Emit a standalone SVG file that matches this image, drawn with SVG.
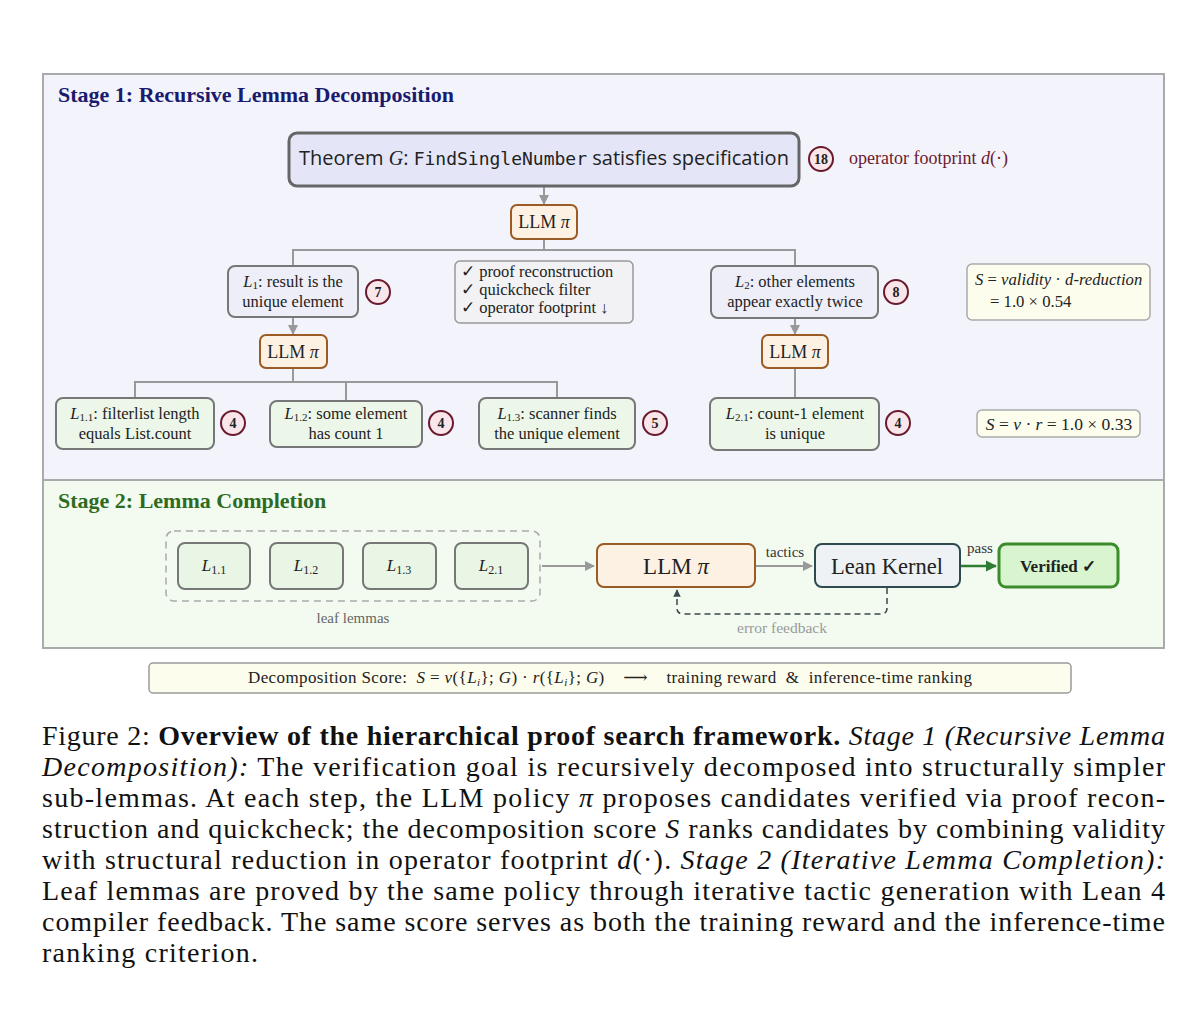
<svg xmlns="http://www.w3.org/2000/svg" width="1200" height="1033" viewBox="0 0 1200 1033">
<defs>
<style>
.s{font-family:"Liberation Serif","DejaVu Serif",serif;}
.t16{font-size:16.5px;fill:#222;}
.sub{font-size:11px;}
.lem{stroke:#777;stroke-width:2;}
.lav{fill:#eeeef8;}
.grn{fill:#edf7e9;}
.llm{fill:#fdf1e4;stroke:#9a5b25;stroke-width:2;}
.badge{fill:#f8e6ea;stroke:#6b1a2e;stroke-width:2;}
.btxt{font-family:"Liberation Serif",serif;font-weight:bold;font-size:14px;fill:#222;text-anchor:middle;}
.con{fill:none;stroke:#999;stroke-width:2;}
.cap{font-family:"Liberation Serif","DejaVu Serif",serif;font-size:28px;fill:#111;}
</style>
<marker id="ag" viewBox="0 0 10 10" refX="9" refY="5" markerWidth="5" markerHeight="5" orient="auto"><path d="M0,0 L10,5 L0,10 z" fill="#999"/></marker>
<marker id="agr" viewBox="0 0 10 10" refX="9" refY="5" markerWidth="4.5" markerHeight="4.5" orient="auto"><path d="M0,0 L10,5 L0,10 z" fill="#2e7d32"/></marker>
<marker id="ad" viewBox="0 0 10 10" refX="9" refY="5" markerWidth="5" markerHeight="5" orient="auto"><path d="M0,0 L10,5 L0,10 z" fill="#3a4a4f"/></marker>
</defs>
<rect width="1200" height="1033" fill="#fff"/>

<!-- panels -->
<g id="stage1">
<rect x="43" y="74" width="1121" height="406" fill="#f3f3fc" stroke="#aaa" stroke-width="2"/>
<text x="58" y="102" class="s" font-size="22" font-weight="bold" fill="#1a1a6e">Stage 1: Recursive Lemma Decomposition</text>
</g>
<g id="stage2">
<rect x="43" y="480" width="1121" height="168" fill="#f3fbf1" stroke="#aaa" stroke-width="2"/>
<text x="58" y="508" class="s" font-size="22" font-weight="bold" fill="#2e6b1e">Stage 2: Lemma Completion</text>
</g>

<!-- connectors -->
<g id="connectors">
<line x1="544" y1="187" x2="544" y2="204" class="con" marker-end="url(#ag)"/>
<polyline points="544,239 544,250" class="con"/>
<polyline points="293,266 293,250 795,250 795,266" class="con"/>
<line x1="293" y1="318" x2="293" y2="334" class="con" marker-end="url(#ag)"/>
<polyline points="293,368 293,382" class="con"/>
<polyline points="135,398 135,382 557,382 557,398" class="con"/>
<line x1="346" y1="382" x2="346" y2="401" class="con"/>
<line x1="795" y1="318" x2="795" y2="334" class="con" marker-end="url(#ag)"/>
<line x1="795" y1="368" x2="795" y2="398" class="con"/>
<line x1="542" y1="566" x2="594" y2="566" class="con" marker-end="url(#ag)"/>
<line x1="756" y1="566" x2="812" y2="566" class="con" marker-end="url(#ag)"/>
<text x="785" y="557" class="s" font-size="15" fill="#333" text-anchor="middle">tactics</text>
<line x1="961" y1="566" x2="996" y2="566" fill="none" stroke="#2e7d32" stroke-width="2.5" marker-end="url(#agr)"/>
<text x="980" y="553" class="s" font-size="15" fill="#333" text-anchor="middle">pass</text>
<path d="M887,588 L887,608 Q887,614 881,614 L683,614 Q677,614 677,608 L677,590" fill="none" stroke="#3a4a4f" stroke-width="1.5" stroke-dasharray="6,4" marker-end="url(#ad)"/>
<text x="782" y="633" class="s" font-size="15.5" fill="#999" text-anchor="middle">error feedback</text>
</g>

<!-- Stage 1 nodes -->
<g id="theorem">
<rect x="289" y="133" width="510" height="53" rx="8" fill="#e4e6f8" stroke="#666" stroke-width="3"/>
<text x="544" y="165" font-size="20" fill="#222" text-anchor="middle" font-family="'Open Sans','Noto Sans',sans-serif">Theorem <tspan class="s" font-style="italic">G</tspan>:  <tspan font-family="'DejaVu Sans Mono','Liberation Mono',monospace" font-size="18">FindSingleNumber</tspan> satisfies specification</text>
</g>
<g id="badge18">
<circle cx="821" cy="159" r="12" class="badge"/>
<text x="821" y="164" class="btxt">18</text>
</g>
<g id="footprint-label">
<text x="849" y="164" class="s" font-size="18" fill="#6b1a2e">operator footprint <tspan font-style="italic">d</tspan>(·)</text>
</g>
<g id="llm1">
<rect x="511" y="205" width="66" height="34" rx="6" class="llm"/>
<text x="544" y="228" class="s" font-size="18" fill="#222" text-anchor="middle">LLM <tspan font-style="italic">π</tspan></text>
</g>
<g id="L1">
<rect x="228" y="266" width="130" height="51" rx="7" class="lav lem"/>
<text x="293" y="286.5" class="s t16" text-anchor="middle"><tspan font-style="italic">L</tspan><tspan class="sub" baseline-shift="-2">1</tspan>: result is the</text>
<text x="293" y="306.5" class="s t16" text-anchor="middle">unique element</text>
</g>
<g id="badge7"><circle cx="378" cy="292" r="12" class="badge"/><text x="378" y="297" class="btxt">7</text></g>
<g id="checks">
<rect x="455" y="261" width="178" height="62" rx="5" fill="#f2f2f4" stroke="#999" stroke-width="1.5"/>
<text x="461" y="277" class="s t16">✓ proof reconstruction</text>
<text x="461" y="295" class="s t16">✓ quickcheck filter</text>
<text x="461" y="313" class="s t16">✓ operator footprint ↓</text>
</g>
<g id="L2">
<rect x="711" y="266" width="167" height="52" rx="7" class="lav lem"/>
<text x="795" y="286.5" class="s t16" text-anchor="middle"><tspan font-style="italic">L</tspan><tspan class="sub" baseline-shift="-2">2</tspan>: other elements</text>
<text x="795" y="306.5" class="s t16" text-anchor="middle">appear exactly twice</text>
</g>
<g id="badge8"><circle cx="896" cy="292" r="12" class="badge"/><text x="896" y="297" class="btxt">8</text></g>
<g id="score1">
<rect x="967" y="264" width="183" height="56" rx="5" fill="#fdfdee" stroke="#aaa" stroke-width="1.5"/>
<text x="975" y="285" class="s" font-size="16.7" fill="#222"><tspan font-style="italic">S</tspan> = <tspan font-style="italic">validity</tspan> · <tspan font-style="italic">d-reduction</tspan></text>
<text x="990" y="307" class="s" font-size="16.7" fill="#222">= 1.0 × 0.54</text>
</g>
<g id="llm2">
<rect x="260" y="335" width="67" height="33" rx="6" class="llm"/>
<text x="293" y="358" class="s" font-size="18" fill="#222" text-anchor="middle">LLM <tspan font-style="italic">π</tspan></text>
</g>
<g id="llm3">
<rect x="762" y="335" width="66" height="33" rx="6" class="llm"/>
<text x="795" y="358" class="s" font-size="18" fill="#222" text-anchor="middle">LLM <tspan font-style="italic">π</tspan></text>
</g>
<g id="L11">
<rect x="56" y="398" width="158" height="51" rx="7" class="grn lem"/>
<text x="135" y="418.5" class="s t16" text-anchor="middle"><tspan font-style="italic">L</tspan><tspan class="sub" baseline-shift="-2">1.1</tspan>: filterlist length</text>
<text x="135" y="438.5" class="s t16" text-anchor="middle">equals List.count</text>
</g>
<g id="badge11"><circle cx="233" cy="423" r="12" class="badge"/><text x="233" y="428" class="btxt">4</text></g>
<g id="L12">
<rect x="270" y="401" width="152" height="46" rx="7" class="grn lem"/>
<text x="346" y="419" class="s t16" text-anchor="middle"><tspan font-style="italic">L</tspan><tspan class="sub" baseline-shift="-2">1.2</tspan>: some element</text>
<text x="346" y="439" class="s t16" text-anchor="middle">has count 1</text>
</g>
<g id="badge12"><circle cx="441" cy="423" r="12" class="badge"/><text x="441" y="428" class="btxt">4</text></g>
<g id="L13">
<rect x="479" y="398" width="156" height="51" rx="7" class="grn lem"/>
<text x="557" y="418.5" class="s t16" text-anchor="middle"><tspan font-style="italic">L</tspan><tspan class="sub" baseline-shift="-2">1.3</tspan>: scanner finds</text>
<text x="557" y="438.5" class="s t16" text-anchor="middle">the unique element</text>
</g>
<g id="badge13"><circle cx="655" cy="423" r="12" class="badge"/><text x="655" y="428" class="btxt">5</text></g>
<g id="L21">
<rect x="710" y="398" width="169" height="52" rx="7" class="grn lem"/>
<text x="795" y="419" class="s t16" text-anchor="middle"><tspan font-style="italic">L</tspan><tspan class="sub" baseline-shift="-2">2.1</tspan>: count-1 element</text>
<text x="795" y="439" class="s t16" text-anchor="middle">is unique</text>
</g>
<g id="badge21"><circle cx="898" cy="423" r="12" class="badge"/><text x="898" y="428" class="btxt">4</text></g>
<g id="score2">
<rect x="977" y="410" width="163" height="27" rx="5" fill="#fdfdee" stroke="#aaa" stroke-width="1.5"/>
<text x="1059" y="430" class="s" font-size="17.5" fill="#222" text-anchor="middle"><tspan font-style="italic">S</tspan> = <tspan font-style="italic">v</tspan> · <tspan font-style="italic">r</tspan> = 1.0 × 0.33</text>
</g>

<!-- Stage 2 nodes -->
<g id="leaf-group">
<rect x="166" y="531" width="374" height="70" rx="8" fill="none" stroke="#aaa" stroke-width="1.5" stroke-dasharray="7,5"/>
<text x="353" y="623" class="s" font-size="15" fill="#666" text-anchor="middle">leaf lemmas</text>
</g>
<g id="leaf11"><rect x="178" y="543" width="72" height="46" rx="7" fill="#e9f6e6" class="lem"/><text x="214" y="571" class="s" font-size="17" fill="#222" text-anchor="middle"><tspan font-style="italic">L</tspan><tspan font-size="12" baseline-shift="-3">1.1</tspan></text></g>
<g id="leaf12"><rect x="270" y="543" width="73" height="46" rx="7" fill="#e9f6e6" class="lem"/><text x="306" y="571" class="s" font-size="17" fill="#222" text-anchor="middle"><tspan font-style="italic">L</tspan><tspan font-size="12" baseline-shift="-3">1.2</tspan></text></g>
<g id="leaf13"><rect x="363" y="543" width="73" height="46" rx="7" fill="#e9f6e6" class="lem"/><text x="399" y="571" class="s" font-size="17" fill="#222" text-anchor="middle"><tspan font-style="italic">L</tspan><tspan font-size="12" baseline-shift="-3">1.3</tspan></text></g>
<g id="leaf21"><rect x="455" y="543" width="73" height="46" rx="7" fill="#e9f6e6" class="lem"/><text x="491" y="571" class="s" font-size="17" fill="#222" text-anchor="middle"><tspan font-style="italic">L</tspan><tspan font-size="12" baseline-shift="-3">2.1</tspan></text></g>
<g id="llm-s2">
<rect x="597" y="544" width="158" height="43" rx="7" class="llm"/>
<text x="676" y="574" class="s" font-size="23" fill="#222" text-anchor="middle">LLM <tspan font-style="italic">π</tspan></text>
</g>
<g id="lean">
<rect x="815" y="544" width="145" height="43" rx="7" fill="#eef2f4" stroke="#2d4a4f" stroke-width="2"/>
<text x="887" y="574" class="s" font-size="22.5" fill="#222" text-anchor="middle">Lean Kernel</text>
</g>
<g id="verified">
<rect x="999" y="544" width="119" height="43" rx="7" fill="#d8f5cf" stroke="#3c8c2c" stroke-width="3"/>
<text x="1058" y="572" class="s" font-size="17" font-weight="bold" fill="#222" text-anchor="middle">Verified ✓</text>
</g>

<!-- score bar -->
<g id="score-bar">
<rect x="149" y="663" width="922" height="30" rx="4" fill="#fdfdee" stroke="#999" stroke-width="1.5"/>
<text x="248" y="683" class="s" font-size="17" fill="#222" textLength="724" lengthAdjust="spacing" xml:space="preserve">Decomposition Score:  <tspan font-style="italic">S</tspan> = <tspan font-style="italic">v</tspan>({<tspan font-style="italic">L</tspan><tspan font-size="11" baseline-shift="-3" font-style="italic">i</tspan>}; <tspan font-style="italic">G</tspan>) · <tspan font-style="italic">r</tspan>({<tspan font-style="italic">L</tspan><tspan font-size="11" baseline-shift="-3" font-style="italic">i</tspan>}; <tspan font-style="italic">G</tspan>)    ⟶    training reward  &amp;  inference-time ranking</text>
</g>

<!-- caption -->
<g id="caption">
<text x="42" y="745" class="cap" textLength="1123" lengthAdjust="spacing">Figure 2: <tspan font-weight="bold">Overview of the hierarchical proof search framework.</tspan> <tspan font-style="italic">Stage 1 (Recursive Lemma</tspan></text>
<text x="42" y="776" class="cap" textLength="1123" lengthAdjust="spacing"><tspan font-style="italic">Decomposition):</tspan> The verification goal is recursively decomposed into structurally simpler</text>
<text x="42" y="807" class="cap" textLength="1123" lengthAdjust="spacing">sub-lemmas. At each step, the LLM policy <tspan font-style="italic">π</tspan> proposes candidates verified via proof recon-</text>
<text x="42" y="838" class="cap" textLength="1123" lengthAdjust="spacing">struction and quickcheck; the decomposition score <tspan font-style="italic">S</tspan> ranks candidates by combining validity</text>
<text x="42" y="869" class="cap" textLength="1123" lengthAdjust="spacing">with structural reduction in operator footprint <tspan font-style="italic">d</tspan>(·). <tspan font-style="italic">Stage 2 (Iterative Lemma Completion):</tspan></text>
<text x="42" y="900" class="cap" textLength="1123" lengthAdjust="spacing">Leaf lemmas are proved by the same policy through iterative tactic generation with Lean 4</text>
<text x="42" y="931" class="cap" textLength="1123" lengthAdjust="spacing">compiler feedback. The same score serves as both the training reward and the inference-time</text>
<text x="42" y="962" class="cap" textLength="216" lengthAdjust="spacing">ranking criterion.</text>
</g>
</svg>
